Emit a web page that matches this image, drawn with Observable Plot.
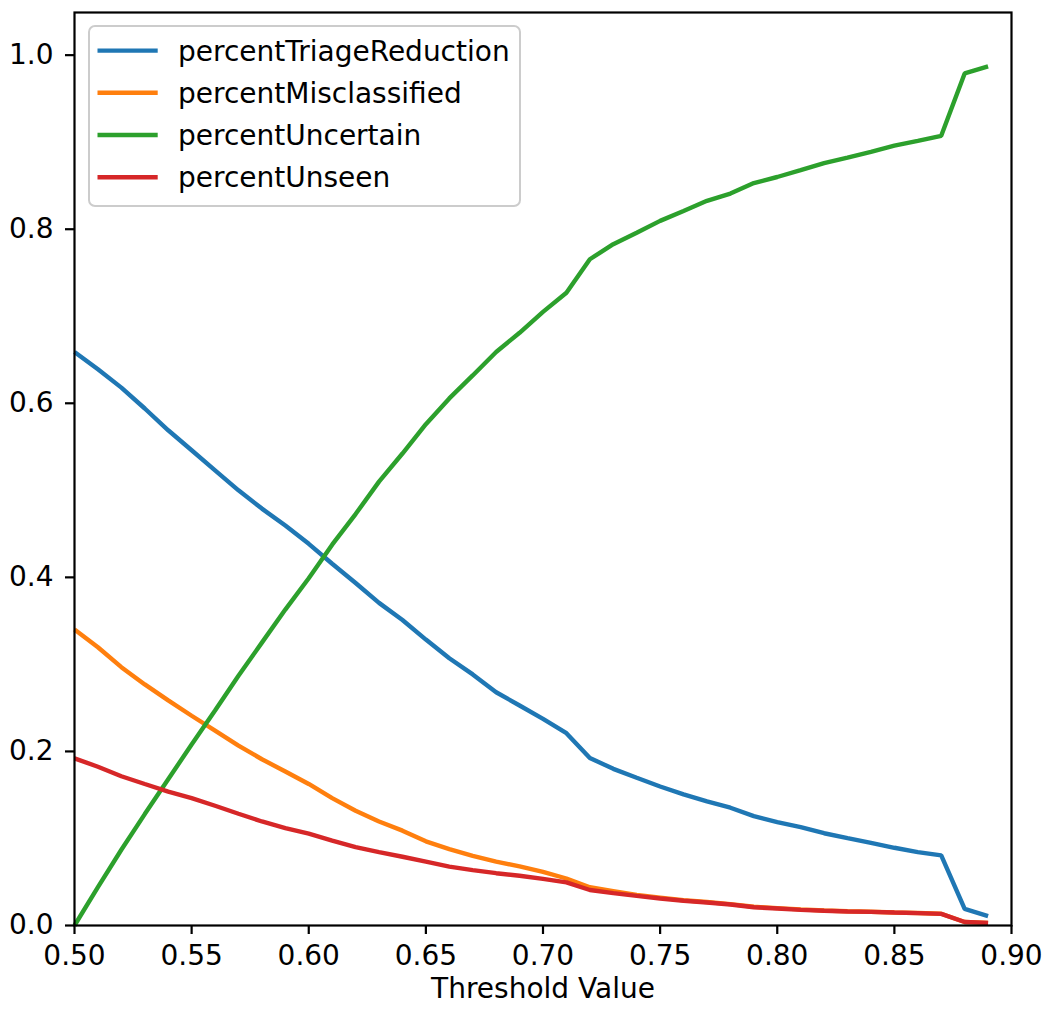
<!DOCTYPE html>
<html>
<head>
<meta charset="utf-8">
<script src="https://cdn.jsdelivr.net/npm/d3@7"></script>
<script src="https://cdn.jsdelivr.net/npm/@observablehq/plot@0.6"></script>
<style>
  html, body { margin: 0; padding: 0; background: #fff; }
  #chart { width: 1047px; height: 1009px; }
  #chart svg, #chart svg text { font-family: "DejaVu Sans" !important; }
</style>
</head>
<body>
<div id="chart"></div>
<script>
const thresholds = [0.50,0.51,0.52,0.53,0.54,0.55,0.56,0.57,0.58,0.59,
                    0.60,0.61,0.62,0.63,0.64,0.65,0.66,0.67,0.68,0.69,
                    0.70,0.71,0.72,0.73,0.74,0.75,0.76,0.77,0.78,0.79,
                    0.80,0.81,0.82,0.83,0.84,0.85,0.86,0.87,0.88,0.89];

const seriesNames = ["percentTriageReduction","percentMisclassified","percentUncertain","percentUnseen"];
const seriesColors = ["#1f77b4","#ff7f0e","#2ca02c","#d62728"];

const percentTriageReduction = [0.659,0.639,0.618,0.594,0.569,0.546,0.523,0.500,0.479,0.4595,
  0.4385,0.4156,0.3935,0.3707,0.351,0.3285,0.307,0.2885,0.268,0.2528,
  0.2375,0.221,0.1925,0.180,0.1697,0.1597,0.1506,0.1425,0.1353,0.1257,
  0.1188,0.113,0.106,0.1004,0.095,0.0893,0.0843,0.0805,0.019,0.0107];

const percentMisclassified = [0.340,0.3197,0.2968,0.277,0.2586,0.241,0.224,0.2067,0.191,0.177,
  0.1626,0.1463,0.1318,0.1195,0.109,0.0967,0.0878,0.080,0.0733,0.068,
  0.0615,0.054,0.044,0.0395,0.035,0.032,0.029,0.027,0.0245,0.0215,
  0.020,0.0185,0.0172,0.0163,0.0158,0.015,0.0143,0.0135,0.004,0.003];

const percentUncertain = [0.0,0.044,0.087,0.128,0.168,0.208,0.247,0.287,0.325,0.363,
  0.399,0.4376,0.4727,0.510,0.5423,0.576,0.6056,0.632,0.659,0.681,
  0.705,0.727,0.7655,0.7828,0.796,0.8096,0.821,0.8326,0.841,0.853,
  0.860,0.8678,0.876,0.8823,0.8889,0.896,0.9016,0.9073,0.979,0.987];

const percentUnseen = [0.192,0.1824,0.1715,0.1626,0.1538,0.1463,0.1376,0.1284,0.1195,0.112,
  0.1055,0.0976,0.090,0.0844,0.079,0.0733,0.0676,0.0637,0.0601,0.0571,
  0.0536,0.0496,0.0408,0.0372,0.034,0.031,0.0285,0.0264,0.0241,0.021,
  0.0195,0.018,0.0169,0.0161,0.0157,0.0149,0.0142,0.0134,0.004,0.003];

const xTicks = [0.50,0.55,0.60,0.65,0.70,0.75,0.80,0.85,0.90];
const yTicks = [0.0,0.2,0.4,0.6,0.8,1.0];
const xLabel = "Threshold Value";

const seriesValues = [percentTriageReduction, percentMisclassified, percentUncertain, percentUnseen];
const data = [];
seriesNames.forEach((name, si) => {
  thresholds.forEach((t, i) => data.push({series: name, x: t, y: seriesValues[si][i]}));
});

const W = 1047, H = 1009;
const mL = 74, mR = 36, mT = 12, mB = 84;
const FS = 28;

const plot = Plot.plot({
  width: W,
  height: H,
  marginLeft: mL,
  marginRight: mR,
  marginTop: mT,
  marginBottom: mB,
  style: {fontFamily: "DejaVu Sans", fontSize: "28px", background: "white", color: "black", overflow: "visible"},
  x: {domain: [0.5, 0.9]},
  y: {domain: [0, 1.049]},
  color: {domain: seriesNames, range: seriesColors},
  marks: [
    Plot.line(data, {x: "x", y: "y", z: "series", stroke: "series", strokeWidth: 4.4, strokeLinejoin: "miter", strokeLinecap: "butt"}),
    Plot.axisX({ticks: xTicks, tickFormat: d => d.toFixed(2), tickSize: 9, tickPadding: 11, strokeWidth: 2.2, fontSize: FS, label: null}),
    Plot.axisY({ticks: yTicks, tickFormat: d => d.toFixed(1), tickSize: 9, tickPadding: 12, strokeWidth: 2.2, fontSize: FS, label: null}),
    Plot.frame({stroke: "black", strokeWidth: 2.2}),
    Plot.text([xLabel], {frameAnchor: "bottom", dy: 72, fontSize: FS, fill: "black", text: d => d})
  ]
});

document.getElementById("chart").appendChild(plot);

// Legend inside the plot area (upper left), drawn in the same SVG
const svg = d3.select(plot);
const lg = svg.append("g")
  .attr("font-family", "DejaVu Sans")
  .attr("text-anchor", "start");
lg.append("rect")
  .attr("x", 89).attr("y", 26).attr("width", 431).attr("height", 180)
  .attr("rx", 6).attr("ry", 6)
  .attr("fill", "white").attr("fill-opacity", 0.8)
  .attr("stroke", "#cccccc").attr("stroke-width", 2);
const rowY0 = 50.6, rowStep = 42.2;
seriesNames.forEach((name, i) => {
  const y = rowY0 + i * rowStep;
  lg.append("line")
    .attr("x1", 97.5).attr("x2", 157.7).attr("y1", y).attr("y2", y)
    .attr("stroke", seriesColors[i]).attr("stroke-width", 4.4);
  lg.append("text")
    .attr("x", 178).attr("y", y).attr("dy", "0.36em")
    .attr("text-anchor", "start")
    .attr("font-size", 28).attr("fill", "black")
    .text(name);
});
</script>
</body>
</html>
